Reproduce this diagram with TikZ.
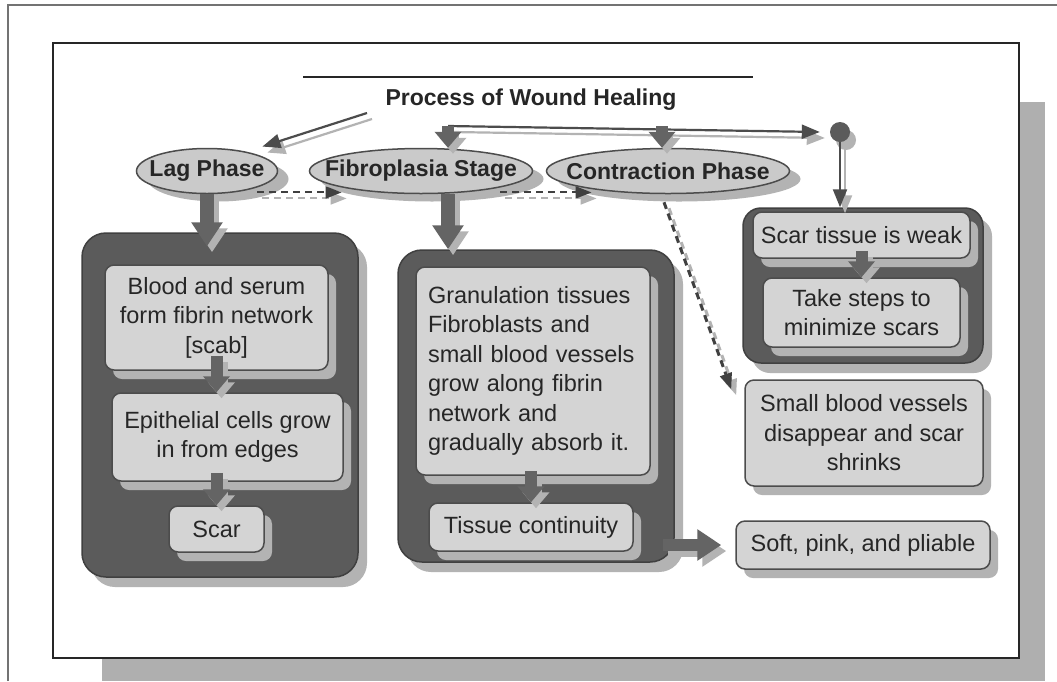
\documentclass[tikz,border=0pt]{standalone}
\usepackage{fontspec}
\setmainfont{Liberation Sans}
\usepackage{tikz}
\usetikzlibrary{arrows.meta, positioning, shapes.geometric, shadows}

\definecolor{panelgray}{HTML}{5B5B5B}
\definecolor{cardgray}{HTML}{D4D4D4}
\definecolor{ovalgray}{HTML}{CACACA}
\definecolor{shadegray}{HTML}{B3B3B3}
\definecolor{arrowgray}{HTML}{646464}
\definecolor{pagegray}{HTML}{AFAFAF}

\tikzset{
  oval/.style={ellipse, draw=black!70, line width=1.5pt, fill=ovalgray, inner sep=0pt,
    minimum height=45pt, font=\fontsize{23}{27}\selectfont\bfseries, text=black!85,
    drop shadow={shadow xshift=11pt, shadow yshift=-8pt, fill=shadegray, opacity=1}},
  panel/.style={rounded corners=24pt, fill=panelgray, draw=black!75, line width=1.5pt,
    drop shadow={shadow xshift=9pt, shadow yshift=-10pt, fill=shadegray, opacity=1}},
  card/.style={rounded corners=9pt, draw=black!70, line width=1.5pt, fill=cardgray,
    align=center, inner sep=6pt, text=black!85,
    font=\fontsize{23.5}{29.5}\selectfont,
    drop shadow={shadow xshift=8pt, shadow yshift=-9pt, fill=shadegray, opacity=1}},
  junction/.style={circle, fill=panelgray, minimum size=20pt, inner sep=0pt,
    drop shadow={shadow xshift=6pt, shadow yshift=-8pt, fill=shadegray, opacity=1}},
  blockarrow/.style={line width=14pt, draw=arrowgray, -{Triangle[width=30pt,length=24pt]}},
  smallblock/.style={line width=12pt, draw=arrowgray, -{Triangle[width=26pt,length=16pt]}},
  thinlink/.style={line width=2.2pt, draw=black!70, -{Triangle[width=14pt,length=18pt]}},
  hintlink/.style={dash pattern=on 7pt off 5pt, line width=2pt, draw=black!75,
    -{Triangle[width=12pt,length=16pt]}}
}

% arrow drawn twice: a light copy behind, then the arrow
\newcommand{\shadelink}[3][]{%
  \draw[#1, draw=shadegray, transform canvas={xshift=5pt, yshift=-6pt}] #2 -- #3;
  \draw[#1] #2 -- #3;}

\begin{document}
\begin{tikzpicture}[x=1pt, y=-1pt]
  \useasboundingbox (0,0) rectangle (1057,681);

  % page and frame
  \draw[line width=2pt, black!55] (8,681) -- (8,5) -- (1057,5);
  \fill[pagegray] (102,102) rectangle (1045,681);
  \draw[line width=2.5pt, black!85, fill=white] (53,43) rectangle (1019,658);

  % title
  \draw[line width=2.5pt, black!85] (303,77) -- (753,77);
  \node[font=\fontsize{23}{27}\selectfont\bfseries, text=black!85] (title) at (531,100) {Process of Wound Healing};

  % phases
  \node[oval, minimum width=141pt] (lag) at (207,171) {\makebox[0pt]{Lag Phase}};
  \node[oval, minimum width=223pt] (fibro) at (421,171) {\makebox[0pt]{Fibroplasia Stage}};
  \node[oval, minimum width=243pt] (contr) at (668,171) {\makebox[0pt]{Contraction Phase}};
  \node[junction] (knot) at (840,132) {};

  % dark panels
  \node[panel, minimum width=276pt, minimum height=344pt] (lagpanel) at (220,405) {};
  \node[panel, minimum width=276pt, minimum height=312pt] (midpanel) at (536,406) {};
  \node[panel, rounded corners=18pt, minimum width=240pt, minimum height=155pt] (weakpanel) at (863,285.5) {};

  % cards
  \node[card, minimum width=223pt, minimum height=105pt] (blood) at (216.5,317.5) {Blood and serum\\form fibrin network\\{[scab]}};
  \node[card, minimum width=231pt, minimum height=88pt] (epi) at (227.5,437) {Epithelial cells grow\\in from edges};
  \node[card, minimum width=95pt, minimum height=46pt] (scar) at (216.5,529) {Scar};
  \node[card, text width=210pt, align=left, inner xsep=12pt, minimum height=208pt] (gran) at (533,371)
    {Granulation tissues\\Fibroblasts and\\small blood vessels\\grow along fibrin\\network and\\gradually absorb it.};
  \node[card, minimum width=204pt, minimum height=48pt] (tissue) at (531,527) {Tissue continuity};
  \node[card, minimum width=217pt, minimum height=46pt] (weak) at (861.5,235) {Scar tissue is weak};
  \node[card, minimum width=197pt, minimum height=69pt] (steps) at (861.5,312.5) {Take steps to\\minimize scars};
  \node[card, minimum width=238pt, minimum height=106pt] (vessels) at (864,433) {Small blood vessels\\disappear and scar\\shrinks};
  \node[card, minimum width=254pt, minimum height=48pt] (soft) at (863,545) {Soft, pink, and pliable};

  % connectors
  \coordinate (tl) at (367,113);
  \coordinate (hub) at (448,126);
  \coordinate (hubc) at (662,126);
  \coordinate (lagin) at ([yshift=-14pt]lagpanel.north);
  \coordinate (midout) at ([xshift=-12pt]midpanel.east);

  \shadelink[thinlink]{(tl)}{([shift={(5pt,8pt)}]lag.north east)}
  \shadelink[thinlink]{(hub)}{([xshift=-10pt]knot.west)}
  \shadelink[thinlink]{(knot.south)}{(knot |- weakpanel.north)}
  \shadelink[smallblock]{(hub)}{(hub |- fibro.north)}
  \shadelink[smallblock]{(hubc)}{(hubc |- contr.north)}

  \shadelink[hintlink]{([yshift=-5pt]lag.south east)}{([yshift=-5pt]fibro.south west)}
  \shadelink[hintlink]{([yshift=-5pt]fibro.south east)}{([shift={(10pt,-5pt)}]contr.south west)}
  \shadelink[hintlink, line width=3pt]{([shift={(-4pt,-8pt)}]contr.south)}{([shift={(-13pt,-10pt)}]vessels.north west)}

  \shadelink[blockarrow]{(lag.south)}{(lag.south |- lagin)}
  \shadelink[blockarrow]{(hub |- fibro.south)}{(hub |- midpanel.north)}
  \shadelink[smallblock]{([yshift=15pt]blood.south)}{(blood.south |- epi.north)}
  \shadelink[smallblock]{([yshift=9pt]epi.south -| scar.north)}{(scar.north)}
  \shadelink[smallblock]{([yshift=5pt]gran.south -| tissue.north)}{(tissue.north)}
  \shadelink[smallblock]{([yshift=8pt]weak.south -| steps.north)}{(steps.north)}
  \shadelink[blockarrow, line width=12pt]{(midout |- soft.west)}{([xshift=-14pt]soft.west)}
\end{tikzpicture}
\end{document}
